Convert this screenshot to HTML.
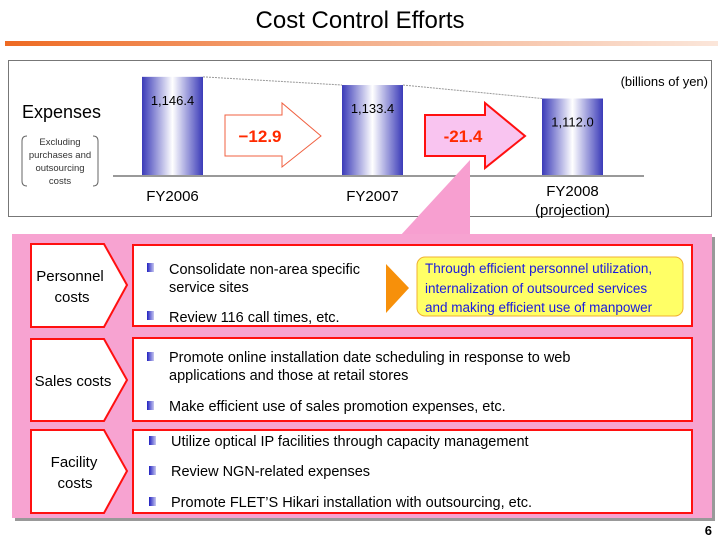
<!DOCTYPE html>
<html><head><meta charset="utf-8"><style>
html,body{margin:0;padding:0;background:#fff}
svg{display:block;font-family:"Liberation Sans",Arial,sans-serif}
</style></head><body>
<svg width="720" height="540" viewBox="0 0 720 540">
<defs>
<linearGradient id="hdr" x1="0" x2="1"><stop offset="0" stop-color="#ee6a22"/><stop offset="0.5" stop-color="#f4b08c"/><stop offset="1" stop-color="#fbe6da"/></linearGradient>
<linearGradient id="barg" x1="0" x2="1"><stop offset="0" stop-color="#3a3ab8"/><stop offset="0.5" stop-color="#ffffff"/><stop offset="1" stop-color="#3a3ab8"/></linearGradient>
<linearGradient id="bul" x1="0" x2="1"><stop offset="0" stop-color="#2020c0"/><stop offset="1" stop-color="#c8c8f0"/></linearGradient>
</defs>
<text x="360" y="28" text-anchor="middle" font-size="24" fill="#000">Cost Control Efforts</text>
<rect x="5" y="41" width="713" height="5" fill="url(#hdr)"/>
<rect x="8.5" y="60.5" width="703" height="156" fill="#fff" stroke="#777"/>
<text x="22" y="118" font-size="18">Expenses</text>
<path d="M27 136 Q22 136 22 141 V181 Q22 186 27 186 M93 136 Q98 136 98 141 V181 Q98 186 93 186" fill="none" stroke="#666"/>
<g font-size="9.5" fill="#333" text-anchor="middle">
<text x="60" y="145">Excluding</text><text x="60" y="158">purchases and</text><text x="60" y="171">outsourcing</text><text x="60" y="184">costs</text></g>
<text x="708" y="86" font-size="13" text-anchor="end">(billions of yen)</text>
<g id="chart"></g>
<line x1="113" y1="176" x2="644" y2="176" stroke="#999" stroke-width="2"/>
<polygon points="225,115 282,115 282,103 321,136 282,167 282,156 225,156" fill="#fff" stroke="#f06040" stroke-width="1"/>
<text x="260" y="142" font-size="17" font-weight="bold" fill="#ff2a00" text-anchor="middle">−12.9</text>
<polygon points="470,160 400,236 470,236" fill="#f79fd0"/>
<polygon points="425,115 485,115 485,103 525,136 485,168 485,156 425,156" fill="#f9c4f0" stroke="#ff1010" stroke-width="2"/>
<text x="463" y="142" font-size="17" font-weight="bold" fill="#ff2a00" text-anchor="middle">-21.4</text>
<rect x="15" y="237" width="700" height="284" fill="#999"/>
<rect x="12" y="234" width="700" height="284" fill="#f7a3d1"/>
<g stroke="#ff1010" stroke-width="2" fill="#fff">
<polygon points="31,244 104,244 127,285 104,327 31,327"/>
<polygon points="31,339 104,339 127,380 104,421 31,421"/>
<polygon points="31,430 104,430 127,471 104,513 31,513"/>
<rect x="133" y="245" width="559" height="81"/>
<rect x="133" y="338" width="559" height="83"/>
<rect x="133" y="430" width="559" height="83"/>
</g>
<g font-size="15" text-anchor="middle" fill="#000">
<text x="70" y="281">Personnel</text>
<text x="72" y="302">costs</text>
<text x="73" y="386">Sales costs</text>
<text x="74" y="467">Facility</text>
<text x="75" y="488">costs</text>
</g>
<g fill="url(#bul)">
<rect x="147" y="263" width="7" height="9"/><rect x="147" y="311" width="7" height="9"/>
<rect x="147" y="352" width="7" height="9"/><rect x="147" y="401" width="7" height="9"/>
<rect x="149" y="436" width="7" height="9"/><rect x="149" y="466" width="7" height="9"/><rect x="149" y="497" width="7" height="9"/>
</g>
<g font-size="14.5" fill="#000">
<text x="169" y="274">Consolidate non-area specific</text>
<text x="169" y="292">service sites</text>
<text x="169" y="322">Review 116 call times, etc.</text>
<text x="169" y="362">Promote online installation date scheduling in response to web</text>
<text x="169" y="380">applications and those at retail stores</text>
<text x="169" y="411">Make efficient use of sales promotion expenses, etc.</text>
<text x="171" y="446">Utilize optical IP facilities through capacity management</text>
<text x="171" y="476">Review NGN-related expenses</text>
<text x="171" y="507">Promote FLET’S Hikari installation with outsourcing, etc.</text>
</g>
<polygon points="386,264 409,288 386,313" fill="#f7900a"/>
<rect x="417" y="257" width="266" height="59" rx="8" fill="#ffff66" stroke="#f0b030"/>
<g font-size="13.5" fill="#1a1ae0">
<text x="425" y="273">Through efficient personnel utilization,</text>
<text x="425" y="293">internalization of outsourced services</text>
<text x="425" y="312">and making efficient use of manpower</text>
</g>
<text x="712" y="535" font-size="13" font-weight="bold" text-anchor="end">6</text>
</svg>
<script>
const categories = ["FY2006", "FY2007", "FY2008"];
const values = [1146.4, 1133.4, 1112.0];
const valueLabels = ["1,146.4", "1,133.4", "1,112.0"];
const NS = "http://www.w3.org/2000/svg";
const g = document.getElementById("chart");
const baseY = 176, barW = 61;
function yScale(v){ return baseY - (v - 989) * 0.63; }
function xScale(i){ return 142 + i * 200; }
const tops = [];
values.forEach((v,i)=>{
  const x = xScale(i), y = yScale(v);
  tops.push([x,y]);
  const r = document.createElementNS(NS,"rect");
  r.setAttribute("x",x); r.setAttribute("y",y); r.setAttribute("width",barW); r.setAttribute("height",baseY-y);
  r.setAttribute("fill","url(#barg)");
  
  
  g.appendChild(r);
  const t = document.createElementNS(NS,"text");
  t.setAttribute("x",x+barW/2); t.setAttribute("y",y+28); t.setAttribute("text-anchor","middle"); t.setAttribute("font-size","13");
  t.textContent = valueLabels[i];
  
  
  g.appendChild(t);
});
for(let i=0;i<tops.length-1;i++){
  const l = document.createElementNS(NS,"line");
  l.setAttribute("x1",tops[i][0]+barW); l.setAttribute("y1",tops[i][1]);
  l.setAttribute("x2",tops[i+1][0]); l.setAttribute("y2",tops[i+1][1]);
  l.setAttribute("stroke","#999"); l.setAttribute("stroke-dasharray","2,1");
  
  
  g.appendChild(l);
}
categories.forEach((c,i)=>{
  const t = document.createElementNS(NS,"text");
  t.setAttribute("x",xScale(i)+barW/2); t.setAttribute("y", i===2?196:201);
  t.setAttribute("text-anchor","middle"); t.setAttribute("font-size","15");
  t.textContent = c;
  
  
  g.appendChild(t);
});
const p = document.createElementNS(NS,"text");
p.setAttribute("x",xScale(2)+barW/2); p.setAttribute("y",215); p.setAttribute("text-anchor","middle"); p.setAttribute("font-size","15");
p.textContent = "(projection)";


g.appendChild(p);
</script>
</body></html>
